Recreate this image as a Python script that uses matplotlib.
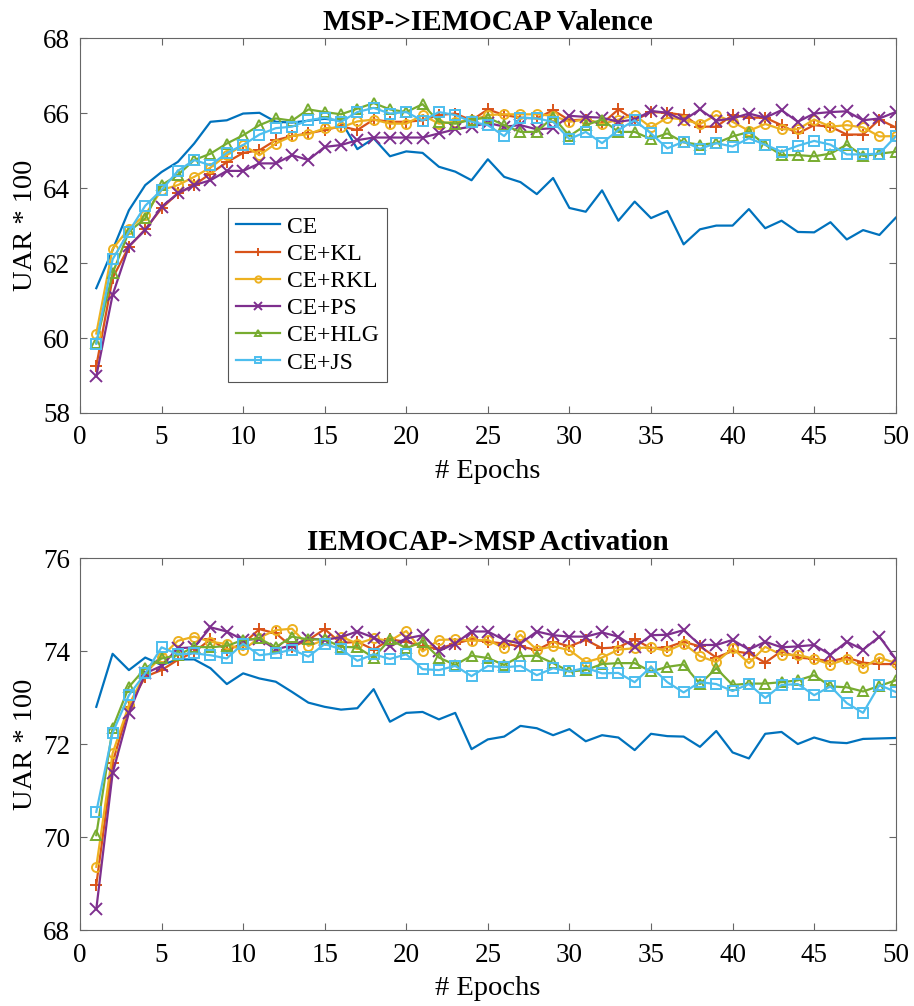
import numpy as np
import matplotlib
matplotlib.use("Agg")
import matplotlib.pyplot as plt

plt.rcParams['font.family'] = ['Liberation Serif', 'DejaVu Serif']
plt.rcParams['mathtext.fontset'] = 'stix'

epochs = np.arange(1, 51)
labels = ['CE', 'CE+KL', 'CE+RKL', 'CE+PS', 'CE+HLG', 'CE+JS']

# MSP->IEMOCAP Valence
val_ce = [61.33, 62.35, 63.41, 64.08, 64.43, 64.70, 65.19, 65.77, 65.81, 65.99,
          66.01, 65.77, 65.75, 65.80, 65.85, 65.80, 65.04, 65.33, 64.85, 64.98,
          64.94, 64.57, 64.44, 64.21, 64.77, 64.30, 64.16, 63.84, 64.27, 63.47,
          63.37, 63.94, 63.13, 63.64, 63.20, 63.39, 62.50, 62.90, 63.00, 63.00,
          63.44, 62.93, 63.13, 62.83, 62.82, 63.09, 62.63, 62.88, 62.75, 63.21]
val_kl = [59.25, 61.60, 62.44, 62.90, 63.46, 63.86, 64.08, 64.39, 64.69, 64.94,
          65.01, 65.28, 65.39, 65.46, 65.55, 65.65, 65.55, 65.83, 65.77, 65.77,
          65.81, 65.95, 65.99, 65.81, 66.10, 65.95, 65.88, 65.86, 66.08, 65.81,
          65.83, 65.72, 66.10, 65.81, 66.03, 66.01, 65.95, 65.64, 65.64, 65.95,
          65.88, 65.88, 65.68, 65.46, 65.68, 65.64, 65.43, 65.43, 65.83, 65.62]
val_rkl = [60.12, 62.38, 62.92, 63.29, 63.95, 64.08, 64.30, 64.55, 64.88, 65.15,
           64.88, 65.19, 65.39, 65.44, 65.60, 65.62, 65.78, 65.83, 65.72, 65.72,
           65.95, 65.72, 65.77, 65.81, 65.95, 65.97, 65.97, 65.97, 65.93, 65.77,
           65.83, 65.71, 65.83, 65.95, 65.62, 65.88, 65.83, 65.71, 65.95, 65.77,
           65.53, 65.71, 65.57, 65.57, 65.83, 65.64, 65.68, 65.62, 65.38, 65.39]
val_ps = [58.98, 61.15, 62.45, 62.88, 63.50, 63.86, 64.08, 64.21, 64.46, 64.46,
          64.66, 64.66, 64.88, 64.75, 65.10, 65.15, 65.28, 65.35, 65.35, 65.35,
          65.35, 65.46, 65.57, 65.64, 65.74, 65.64, 65.68, 65.57, 65.60, 65.93,
          65.90, 65.88, 65.77, 65.83, 66.06, 66.01, 65.81, 66.10, 65.80, 65.86,
          65.99, 65.88, 66.08, 65.77, 65.99, 66.03, 66.05, 65.81, 65.86, 66.03]
val_hlg = [59.86, 61.73, 62.84, 63.19, 64.08, 64.35, 64.75, 64.92, 65.19, 65.41,
           65.68, 65.86, 65.80, 66.10, 66.03, 65.97, 66.12, 66.27, 66.10, 66.03,
           66.24, 65.77, 65.72, 65.83, 65.88, 65.68, 65.50, 65.50, 65.90, 65.39,
           65.68, 65.83, 65.50, 65.50, 65.31, 65.46, 65.22, 65.16, 65.20, 65.38,
           65.50, 65.16, 64.88, 64.88, 64.85, 64.92, 65.16, 64.86, 64.92, 64.97]
val_js = [59.85, 62.10, 62.84, 63.53, 63.95, 64.46, 64.75, 64.61, 64.94, 65.15,
          65.43, 65.60, 65.64, 65.81, 65.88, 65.77, 66.03, 66.14, 65.99, 66.03,
          65.80, 66.03, 65.95, 65.77, 65.68, 65.39, 65.88, 65.86, 65.77, 65.31,
          65.50, 65.20, 65.55, 65.81, 65.46, 65.06, 65.24, 65.05, 65.20, 65.11,
          65.33, 65.16, 64.97, 65.13, 65.26, 65.16, 64.90, 64.90, 64.92, 65.38]

# IEMOCAP->MSP Activation
act_ce = [72.80, 73.94, 73.59, 73.86, 73.70, 73.82, 73.82, 73.63, 73.29, 73.52,
          73.41, 73.34, 73.12, 72.89, 72.80, 72.74, 72.77, 73.18, 72.48, 72.67,
          72.69, 72.53, 72.67, 71.89, 72.10, 72.16, 72.39, 72.34, 72.19, 72.32,
          72.06, 72.19, 72.14, 71.87, 72.22, 72.17, 72.16, 71.94, 72.28, 71.82,
          71.69, 72.22, 72.26, 72.00, 72.14, 72.04, 72.02, 72.11, 72.12, 72.13]
act_kl = [68.97, 71.60, 72.80, 73.45, 73.59, 73.81, 73.98, 74.25, 74.02, 74.16,
          74.47, 74.38, 74.09, 74.24, 74.47, 74.17, 74.20, 74.03, 74.25, 74.20,
          74.10, 74.05, 74.16, 74.25, 74.20, 74.16, 74.10, 74.02, 74.20, 74.10,
          74.24, 74.06, 74.08, 74.25, 74.06, 74.08, 74.20, 74.10, 73.86, 74.00,
          73.95, 73.75, 74.00, 73.86, 73.83, 73.78, 73.86, 73.75, 73.72, 73.72]
act_rkl = [69.36, 71.80, 72.84, 73.52, 73.88, 74.22, 74.31, 74.20, 74.15, 74.02,
           74.29, 74.45, 74.48, 74.11, 74.24, 74.31, 74.16, 74.27, 74.22, 74.43,
           73.99, 74.24, 74.25, 74.22, 74.24, 74.06, 74.35, 74.03, 74.10, 74.02,
           73.76, 73.86, 74.03, 74.06, 74.08, 74.00, 74.16, 73.89, 73.76, 74.06,
           73.74, 74.09, 73.92, 73.92, 73.83, 73.71, 73.83, 73.64, 73.86, 73.74]
act_ps = [68.45, 71.37, 72.67, 73.52, 73.68, 74.06, 74.08, 74.51, 74.42, 74.24,
          74.26, 74.04, 74.12, 74.27, 74.24, 74.30, 74.42, 74.29, 74.10, 74.27,
          74.34, 74.00, 74.16, 74.42, 74.42, 74.24, 74.16, 74.42, 74.34, 74.31,
          74.31, 74.40, 74.31, 74.08, 74.34, 74.35, 74.45, 74.13, 74.13, 74.24,
          74.03, 74.20, 74.08, 74.10, 74.13, 73.92, 74.20, 74.03, 74.31, 73.83]
act_hlg = [70.04, 72.34, 73.23, 73.63, 73.84, 73.91, 74.09, 74.08, 74.11, 74.24,
           74.27, 74.08, 74.31, 74.25, 74.25, 74.09, 74.08, 73.86, 74.25, 74.06,
           74.20, 73.86, 73.70, 73.90, 73.85, 73.70, 73.89, 73.90, 73.74, 73.56,
           73.59, 73.72, 73.74, 73.74, 73.56, 73.66, 73.71, 73.29, 73.63, 73.27,
           73.30, 73.30, 73.33, 73.37, 73.48, 73.24, 73.22, 73.13, 73.25, 73.37]
act_js = [70.54, 72.24, 73.05, 73.52, 74.08, 73.93, 73.95, 73.91, 73.84, 74.16,
          73.91, 73.95, 74.03, 73.88, 74.15, 74.04, 73.79, 73.93, 73.83, 73.93,
          73.61, 73.59, 73.68, 73.46, 73.68, 73.65, 73.68, 73.48, 73.63, 73.56,
          73.64, 73.52, 73.53, 73.33, 73.66, 73.33, 73.11, 73.33, 73.29, 73.14,
          73.29, 72.99, 73.27, 73.29, 73.05, 73.24, 72.88, 72.67, 73.27, 73.12]

colors = [(0, 0.447, 0.741), (0.85, 0.325, 0.098), (0.929, 0.694, 0.125),
          (0.494, 0.184, 0.556), (0.466, 0.674, 0.188), (0.301, 0.745, 0.933)]
markers = [None, '+', 'o', 'x', '^', 's']


def draw(ax, series, title, ylim, legend=False):
    for s, c, m, lab in zip(series, colors, markers, labels):
        ms = 9 if m in ('+', 'x') else 6.5
        ax.plot(epochs, s, color=c, marker=m, markersize=ms, markerfacecolor='none',
                markeredgewidth=1.4, linewidth=1.6, label=lab)
    ax.set_xlim(0, 50)
    ax.set_ylim(*ylim)
    ax.set_xticks(np.arange(0, 51, 5))
    ax.set_yticks(np.arange(ylim[0], ylim[1] + 1, 2))
    ax.tick_params(direction='in', top=True, right=True, labelsize=19.5,
                   color='#666666', length=5)
    ax.tick_params(axis='x', pad=9)
    ax.tick_params(axis='y', pad=7)
    for sp in ax.spines.values():
        sp.set_color('#666666')
        sp.set_linewidth(0.8)
    ax.set_xlabel('# Epochs', fontsize=20.5, labelpad=6)
    ax.set_ylabel('UAR * 100', fontsize=20.5, labelpad=4)
    ax.set_title(title, fontsize=21, fontweight='bold', pad=6)
    if legend:
        leg = ax.legend(loc='lower left', bbox_to_anchor=(0.181, 0.083), fontsize=17,
                        handlelength=1.85, borderpad=0.35, labelspacing=0.24,
                        handletextpad=0.3, borderaxespad=0, markerscale=0.7,
                        fancybox=False, framealpha=1)
        leg.get_frame().set_edgecolor('#555555')
        leg.get_frame().set_linewidth(0.8)


fig = plt.figure(figsize=(9.14, 10.06), dpi=100)
ax1 = fig.add_axes([0.0875, 0.5895, 0.8925, 0.3725])
ax2 = fig.add_axes([0.0875, 0.0755, 0.8925, 0.3698])

draw(ax1, [val_ce, val_kl, val_rkl, val_ps, val_hlg, val_js],
     'MSP->IEMOCAP Valence', (58, 68), legend=True)
draw(ax2, [act_ce, act_kl, act_rkl, act_ps, act_hlg, act_js],
     'IEMOCAP->MSP Activation', (68, 76))

fig.savefig('out.png', dpi=100)
